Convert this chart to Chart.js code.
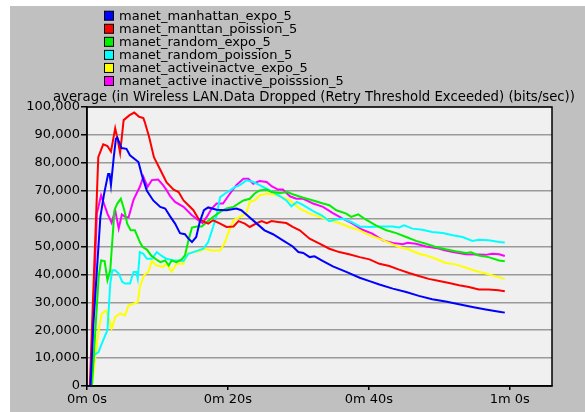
<!DOCTYPE html>
<html>
<head>
<meta charset="utf-8">
<script src="https://cdn.jsdelivr.net/npm/chart.js@4.4.1/dist/chart.umd.min.js"></script>
<style>
  html, body { margin: 0; padding: 0; background: #fff; }
  canvas { display: block; }
</style>
</head>
<body>
<canvas id="chart" width="585" height="412"></canvas>
<script>
// series labels, in legend order
const seriesNames = [
  "manet_manhattan_expo_5",
  "manet_manttan_poission_5",
  "manet_random_expo_5",
  "manet_random_poission_5",
  "manet_activeinactve_expo_5",
  "manet_active inactive_poisssion_5"
];
const seriesColors = ["#0000ff", "#ff0000", "#00f000", "#00ffff", "#ffff00", "#ff00ff"];

// time in seconds, values in thousands of bits/sec
const blueT = [0, 0.5, 0.9, 1.9, 2.4, 3.0, 3.2, 3.4, 3.8, 4.1, 4.3, 4.9, 5.6, 6.1, 7.3, 7.8, 8.5, 9.4, 10.4, 11.1, 11.8, 12.5, 13.2, 13.9, 14.4, 14.9, 15.5, 16, 16.6, 17.2, 18.4, 19.8, 21.2, 21.9, 22.9, 24.1, 25.2, 26.4, 27.8, 29.2, 30, 30.7, 31.6, 32.3, 33.5, 34.9, 36.8, 38.7, 40.1, 41.5, 43.4, 45.3, 47.1, 49, 50.9, 52.8, 54.7, 56.6, 58.5, 59.3];
const blueV = [0, 0, 22, 60.6, 68.5, 76, 76, 72, 82, 88.6, 89, 85.3, 85, 82.7, 80.3, 75.5, 70, 66.5, 64.2, 63.6, 60.8, 58.2, 54.8, 54.4, 52.8, 51.6, 53.4, 58.8, 63, 64, 63.2, 63, 63.6, 63, 60.8, 58.2, 55.8, 54.4, 52.2, 50, 48, 47.7, 46.2, 46.5, 44.8, 42.9, 40.9, 38.8, 37.6, 36.4, 34.9, 33.7, 32.3, 31.1, 30.3, 29.3, 28.3, 27.4, 26.6, 26.3];

const redT = [0, 0.4, 1.6, 2.3, 2.9, 3.4, 4.0, 4.3, 4.7, 5.2, 6.0, 6.7, 7.4, 8.0, 8.2, 8.8, 9.5, 10.4, 11.3, 12.3, 13, 13.7, 14.4, 15.1, 15.8, 16.5, 17.2, 17.9, 18.9, 19.8, 20.8, 21.5, 22.4, 23.1, 24.1, 24.8, 25.5, 26.2, 27.1, 28.3, 29.2, 30.2, 31.6, 33, 34.4, 35.8, 37.2, 38.7, 40.1, 41.5, 42.9, 44.3, 45.7, 47.1, 48.5, 50, 51.4, 52.8, 54.2, 55.6, 57, 58.4, 59.3];
const redV = [0, 0, 82, 86.6, 86, 84, 92.4, 89, 83.5, 95.3, 97, 98, 96.5, 96, 94.6, 89.4, 82, 77.5, 73, 70.4, 69.5, 66.5, 64.8, 63, 60, 59, 58.2, 59.4, 58.2, 57, 57.2, 59.1, 58.2, 57, 58.4, 59.1, 58.4, 59.1, 58.8, 58.4, 57, 55.8, 52.8, 51, 49.2, 48, 47.2, 46.2, 45.4, 43.8, 43, 41.7, 40.5, 39.4, 38.4, 37.6, 36.9, 36.1, 35.5, 34.6, 34.6, 34.3, 34];

const greenT = [0, 0.7, 1.65, 2, 2.5, 2.9, 3.3, 3.9, 4.3, 4.8, 5.3, 5.7, 6.2, 6.8, 7.5, 7.9, 8.5, 9.1, 9.7, 10.4, 11.1, 11.6, 12, 12.7, 13.4, 13.9, 14.4, 14.9, 15.6, 16.3, 17, 17.9, 18.9, 19.8, 20.8, 21.5, 22.2, 23.1, 23.8, 24.5, 25.5, 26.2, 27.4, 28.5, 29.2, 30.7, 32.1, 33.5, 34.4, 35.4, 36.8, 37.5, 38.5, 39.6, 41, 42.5, 43.9, 45.3, 46.7, 48.1, 49.5, 50.9, 52.3, 53.8, 54.5, 55.6, 57, 58.5, 59.3];
const greenV = [0, 0, 39, 45, 44.8, 37.9, 41.5, 63, 65.4, 67.1, 63, 58.2, 55.8, 55.8, 51.6, 49.8, 48.9, 46.8, 45.6, 44.4, 45, 43.2, 45, 44.4, 45.3, 46.8, 52.2, 56.8, 57.2, 57.2, 58.8, 60.6, 62.4, 63.6, 64.2, 65.4, 66.5, 67.1, 69, 70.1, 70.4, 69.5, 69.2, 69.5, 68.7, 67.5, 66.5, 65.4, 64.8, 63, 61.8, 60.6, 61.5, 59.6, 57.6, 55.8, 54.8, 53.4, 52, 51, 49.8, 49, 48.3, 47.7, 47.9, 46.8, 46.2, 45, 44.7];

const cyanT = [0, 0.5, 1, 1.65, 2.1, 2.6, 2.9, 3.3, 3.6, 4, 4.5, 5, 5.4, 6.1, 6.6, 7, 7.2, 7.5, 8, 8.5, 9.2, 9.9, 10.6, 11.3, 12.3, 13, 13.7, 14.4, 15.1, 15.8, 16.5, 17.2, 17.9, 18.4, 18.9, 19.6, 20.3, 21, 21.7, 22.6, 23.6, 24.5, 25.5, 26.4, 27.4, 28.3, 29, 29.8, 30.7, 32.1, 33.3, 34.4, 35.1, 36.3, 37.5, 38.7, 40.1, 41.5, 43.4, 44.3, 45, 46.2, 47.6, 49, 50.5, 51.9, 53.3, 54.7, 55.6, 57, 58.5, 59.3];
const cyanV = [0, 0, 11, 12.2, 15.2, 18.2, 20, 36.7, 41.5, 41.5, 40.3, 37.3, 36.7, 36.7, 40.9, 40.9, 38.5, 48, 47.4, 45.6, 45.6, 48, 46.6, 45.6, 45, 45, 44.8, 47.4, 48, 48.6, 49.2, 51.6, 57, 61.2, 67.7, 69, 70.1, 71.3, 72, 73.7, 73.1, 72, 70.7, 69.5, 68, 66.5, 64.4, 66, 64.8, 62.7, 61.2, 59.1, 59.6, 60, 58.8, 57.2, 57, 57.2, 57.2, 56.8, 57.6, 56.4, 56, 55.2, 54.8, 54, 53.4, 52, 52.4, 52.2, 51.6, 51.4];

const yellowT = [0, 0.7, 1.65, 2.1, 2.7, 3.2, 3.5, 4, 4.7, 5.4, 5.9, 6.6, 7.2, 7.5, 8.1, 8.7, 9.2, 9.9, 10.8, 11.3, 12, 12.7, 13.7, 14.2, 15.1, 16, 16.7, 17.7, 18.9, 19.6, 20, 20.8, 21.7, 22.6, 23.1, 23.8, 24.5, 25.5, 26.4, 27.4, 28.8, 30.2, 31.6, 33, 34.4, 35.8, 37.2, 38.7, 40.1, 41.5, 42.9, 44.3, 45.7, 47.1, 48.1, 49.5, 50.9, 52.3, 53.8, 55.2, 56.6, 58, 59.3];
const yellowV = [0, 0, 20, 26, 27.1, 23.5, 20.5, 24.7, 26, 25.3, 28.9, 29.5, 30.1, 35.5, 39.7, 40.9, 44.8, 43.2, 42.7, 43.8, 40.9, 43.8, 43.8, 47.4, 48, 48.3, 49.2, 48.6, 48.6, 51.6, 54.6, 59.4, 60.6, 61.8, 66, 66.5, 68.3, 69, 68.7, 68, 66.5, 63.6, 61.8, 60.6, 59.4, 58.4, 57, 55.8, 54, 52.8, 51.3, 49.8, 48.9, 47.4, 46.8, 45.6, 44.1, 43.6, 42.4, 41.2, 40.3, 39.3, 38.4];

const magentaT = [0, 0.5, 1.4, 2.0, 2.4, 2.9, 3.5, 4.0, 4.5, 4.95, 5.5, 5.9, 6.6, 7.5, 8.0, 8.6, 9.2, 10.1, 10.8, 11.3, 11.8, 12.5, 13.7, 14.85, 15.8, 16.4, 17, 17.7, 18.4, 19.3, 20.3, 21.2, 22.2, 22.9, 23.6, 24.5, 25.5, 26.2, 27.1, 27.8, 28.8, 29.7, 30.7, 32.1, 33.5, 34.9, 36.3, 37.7, 39.1, 40.5, 42, 43.4, 44.8, 45.5, 46.7, 48.1, 49.5, 50.9, 52.3, 53.8, 55.2, 56.6, 57.5, 58.5, 59.3];
const magentaV = [0, 0, 61.8, 68.3, 65.4, 61.8, 58.5, 63, 56.5, 61.5, 60.5, 60.5, 66.7, 71.4, 75, 71.4, 73.8, 74, 72, 70.2, 68, 66, 64.2, 61.3, 59.4, 58.4, 60.6, 63.6, 65.4, 65.4, 69, 72, 74.3, 74.3, 72.5, 73.5, 73.1, 71.6, 70.4, 70.4, 68, 67.1, 67.1, 65.4, 64.2, 62, 60, 58.2, 56, 54.6, 52.2, 51.3, 50.8, 51.3, 51, 50, 49.5, 48.6, 47.8, 47.2, 47.1, 47, 47.4, 47.2, 46.6];

const seriesT = [blueT, redT, greenT, cyanT, yellowT, magentaT];
const seriesV = [blueV, redV, greenV, cyanV, yellowV, magentaV];

const chartTitle = "average (in Wireless LAN.Data Dropped (Retry Threshold Exceeded) (bits/sec))";
const xTicks = [0, 20, 40, 60];

Chart.defaults.font.family = "'DejaVu Sans', sans-serif";
Chart.defaults.font.size = 13;
Chart.defaults.color = "#000";

const datasets = seriesNames.map((name, i) => ({
  label: name,
  data: seriesT[i].map((t, j) => ({ x: t, y: seriesV[i][j] * 1000 })),
  borderColor: seriesColors[i],
  backgroundColor: seriesColors[i],
  borderWidth: 2,
  pointRadius: 0,
  tension: 0,
  fill: false,
}));

// gray frame, plot background, border, legend and title
const opnetLook = {
  id: "opnetLook",
  beforeDraw(chart) {
    const { ctx, chartArea: a } = chart;
    ctx.save();
    ctx.fillStyle = "#fff";
    ctx.fillRect(0, 0, chart.width, chart.height);
    ctx.fillStyle = "#c0c0c0";
    ctx.fillRect(10, 6, chart.width - 10, chart.height - 6);
    ctx.fillStyle = "#f0f0f0";
    ctx.fillRect(a.left, a.top, a.right - a.left, a.bottom - a.top);
    ctx.restore();
  },
  afterDraw(chart) {
    const { ctx, chartArea: a } = chart;
    ctx.save();
    ctx.strokeStyle = "#000";
    ctx.lineWidth = 1.5;
    ctx.strokeRect(a.left, a.top, a.right - a.left, a.bottom - a.top);

    // legend
    ctx.font = "13px 'DejaVu Sans'";
    ctx.textBaseline = "middle";
    ctx.textAlign = "left";
    chart.data.datasets.forEach((ds, i) => {
      const y = 15.7 + i * 13.06;
      ctx.fillStyle = ds.borderColor;
      ctx.fillRect(104, y - 4.5, 10, 9);
      ctx.strokeStyle = "#000";
      ctx.lineWidth = 1;
      ctx.strokeRect(104.5, y - 4.5, 9, 9);
      ctx.fillStyle = "#000";
      ctx.fillText(ds.label, 119, y + 0.5);
    });

    // title, sized to span the same width as the picture
    ctx.font = "13px 'DejaVu Sans'";
    const w = ctx.measureText(chartTitle).width;
    const size = 13 * 522 / w;
    ctx.font = size.toFixed(2) + "px 'DejaVu Sans'";
    ctx.fillText(chartTitle, 53, 98);
    ctx.restore();
  },
};

new Chart(document.getElementById("chart"), {
  type: "line",
  data: { datasets },
  options: {
    responsive: false,
    animation: false,
    layout: { padding: { left: 0, top: 107, right: 33, bottom: 0 } },
    plugins: { legend: { display: false }, tooltip: { enabled: false } },
    scales: {
      x: {
        type: "linear",
        min: 0,
        max: 66,
        afterBuildTicks: (s) => { s.ticks = xTicks.map((v) => ({ value: v })); },
        ticks: {
          maxRotation: 0,
          padding: 2,
          callback: (v) => Math.floor(v / 60) + "m " + (v % 60) + "s",
        },
        grid: { drawOnChartArea: false, tickLength: 4, tickColor: "#000", lineWidth: 1.5 },
        border: { color: "#000", width: 1.5 },
        afterFit: (s) => { s.height = 26; },
      },
      y: {
        min: 0,
        max: 100000,
        ticks: {
          stepSize: 10000,
          padding: 1,
          callback: (v) => v.toLocaleString("en-US"),
        },
        grid: { color: "#9a9a9a", lineWidth: 1.5, tickLength: 6, tickColor: "#000" },
        border: { color: "#000", width: 1.5 },
        afterFit: (s) => { s.width = 87; },
      },
    },
  },
  plugins: [opnetLook],
});
</script>
</body>
</html>
